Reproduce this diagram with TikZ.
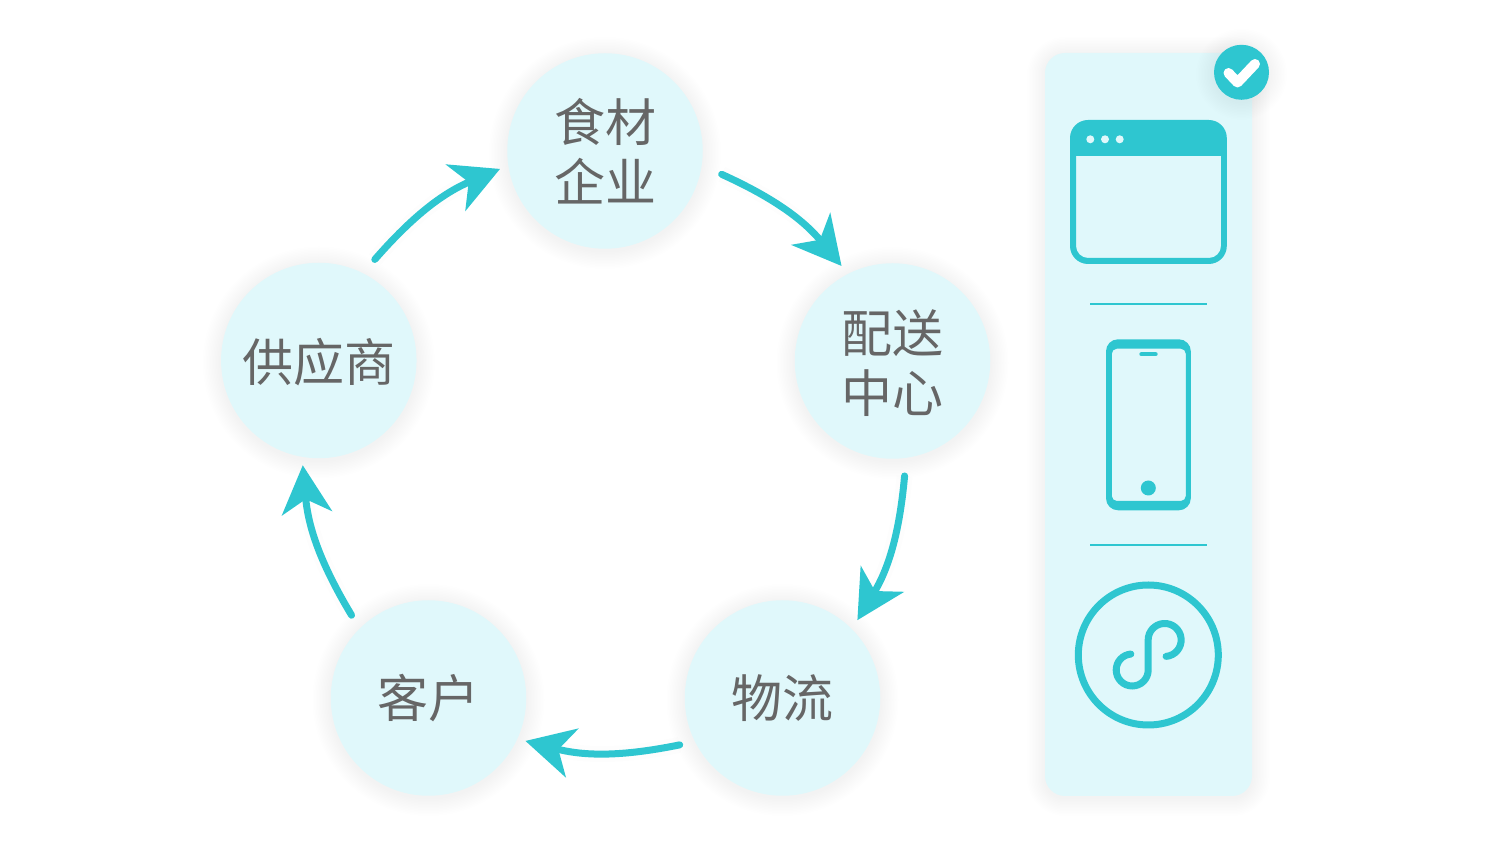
\documentclass[tikz,border=0pt]{standalone}
\usepackage{fontspec}
\newfontfamily\cjk{Noto Sans CJK SC}
\usetikzlibrary{arrows.meta,calc}
\definecolor{teal}{HTML}{2EC6D0}
\definecolor{pale}{HTML}{E0F8FB}
\definecolor{ink}{HTML}{666666}
\newcommand{\circshadow}[3]{\foreach \d in {1.5,3,...,18}{\fill[black,opacity=0.002] (#1,#2-2) circle ({#3+\d});}}
\newcommand{\lowered}[1]{\raisebox{-1.7pt}[\height][\depth]{#1}}
\newcommand{\flowarrow}[6]{%
  \draw[flowshade] ($(#1)+(#2:#3)$) to[bend left=13] ($(#4)+(#5:#6)$);
  \draw[flow] ($(#1)+(#2:#3)$) to[bend left=13] ($(#4)+(#5:#6)$);}
\tikzset{
  x=1pt,y=1pt,
  stage/.style={circle,fill=pale,text=ink,minimum size=195.5pt,inner sep=0pt,align=center,
    font=\cjk\fontsize{51}{60}\selectfont},
  flow/.style={teal,line width=7pt,line cap=round,
    -{Stealth[length=48pt,width=50pt,inset=14pt]}},
  flowshade/.style={black,opacity=0.008,line width=16pt,shorten >=30pt},
  rule/.style={teal,line width=2pt},
}
\begin{document}
\begin{tikzpicture}
\useasboundingbox (0,0) rectangle (1490,840);
\fill[white] (0,0) rectangle (1490,840);
% circle shadows
\circshadow{605}{689}{98}
\circshadow{892.5}{479}{98}
\circshadow{782.5}{142}{98}
\circshadow{428.5}{142}{98}
\circshadow{318.8}{479.5}{98}
% panel shadow
\foreach \d in {1.5,3,...,18}{\fill[black,opacity=0.002,rounded corners={20+\d}] (1045-\d,44-\d-2) rectangle (1252+\d,787+\d-2);}
% stages
\node[stage] (food) at (605,689) {食材\\企业};
\node[stage] (hub) at (892.5,479) {\lowered{配送}\\\lowered{中心}};
\node[stage] (logi) at (782.5,142) {物流};
\node[stage] (client) at (428.5,142) {客户};
\node[stage] (supply) at (318.8,479.5) {\lowered{供应商}};
% connectors
\flowarrow{food}{-11.3}{119}{hub}{118.2}{107.8}
\flowarrow{hub}{-84}{115.6}{logi}{46.1}{108}
\flowarrow{logi}{204.5}{113}{client}{-23.9}{106}
\flowarrow{client}{132.9}{113}{supply}{261.3}{106}
\flowarrow{supply}{61}{115.5}{food}{189.7}{106.5}
% panel
\fill[pale,rounded corners=20pt] (1045,44) rectangle (1252,787);
% badge
\circshadow{1241.5}{767.7}{27.5}
\fill[teal] (1241.5,767.7) circle (27.5);
\draw[white,line width=10pt,line cap=round,line join=round] (1228.5,767) -- (1237.5,757.5) -- (1255,776);
% browser window
\fill[teal,even odd rule]
  [rounded corners=18pt] (1070,576) rectangle (1226.8,720)
  [rounded corners=12pt] (1076,684) [sharp corners] -- (1221,684) [rounded corners=12pt] -- (1221,582) -- (1076,582) [sharp corners] -- cycle;
\foreach \x in {1090.3,1105,1119.7}{\fill[pale] (\x,700.7) circle (4);}
\draw[rule] (1090,536) -- (1207,536);
% phone
\fill[teal,even odd rule]
  [rounded corners=12pt] (1106,329.7) rectangle (1190.8,500.7)
  [rounded corners=5pt] (1111.8,339) rectangle (1185.8,491.3);
\draw[teal,line width=4pt,line cap=round] (1141.3,485.7) -- (1155.7,485.7);
\fill[teal] (1148.3,352) circle (7.5);
\draw[rule] (1090,294.5) -- (1207,294.5);
% mini program
\draw[teal,line width=7pt] (1148.3,185) circle (70);
\draw[teal,line width=7pt,line cap=round] (1166.1,183.6) arc[start angle=-85,end angle=180,radius=16.5] -- (1148.2,170) arc[start angle=0,end angle=-265,radius=16];
\end{tikzpicture}
\end{document}
